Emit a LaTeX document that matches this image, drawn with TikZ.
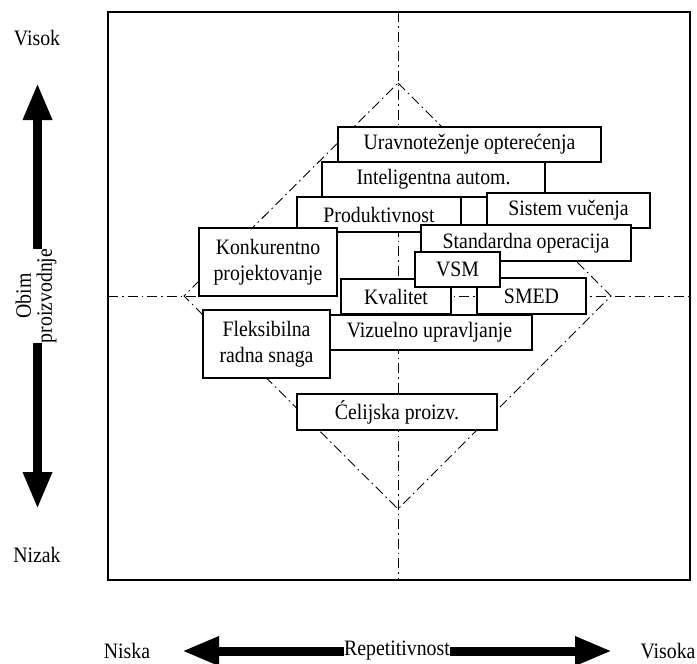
\documentclass[tikz,border=0pt]{standalone}
\usepackage{fontspec}
\setmainfont{Liberation Serif}[FakeStretch=0.9]
\usetikzlibrary{arrows.meta}
\begin{document}
\begin{tikzpicture}[x=1pt,y=-1pt,
  every node/.style={font=\fontsize{22}{25}\selectfont},
  box/.style={draw, fill=white, line width=1.2pt, inner sep=0pt, align=center},
  axisline/.style={line width=0.9pt, dash pattern=on 10pt off 4pt on 1.5pt off 4pt},
  lab/.style={fill=white, inner sep=0pt},
  bigarrow/.style={line width=9pt, -{Triangle[length=37pt,width=27pt]}}
]
\useasboundingbox (0,0) rectangle (697,664);

% frame and axes
\draw[line width=1.2pt] (108,12) rectangle (690,580);
\coordinate (ctop) at (398,12);
\coordinate (cbot) at (398,580);
\coordinate (cleft) at (108,296);
\coordinate (cright) at (690,296);
\draw[axisline] (ctop) -- (cbot);
\draw[axisline] (cleft) -- (cright);

% diamond
\coordinate (dn) at (398,83);
\coordinate (de) at (611,296);
\coordinate (ds) at (398,509);
\coordinate (dw) at (184,296);
\draw[axisline] (dn) -- (de) -- (ds) -- (dw) -- cycle;

% method boxes
\node[box, minimum width=263pt, minimum height=35pt] (urav) at (469.5,144.5) {Uravnoteženje opterećenja};
\node[box, minimum width=223pt, minimum height=35pt] (intel) at (433.5,179.5) {Inteligentna autom.};
\node[box, minimum width=164pt, minimum height=35pt] (prod) at (379,214.5) {Produktivnost};
\node[box, minimum width=163pt, minimum height=35pt] (sist) at (568.5,210.5) {Sistem vučenja};
\node[box, minimum width=210pt, minimum height=36pt] (stand) at (526,243) {Standardna operacija};
\node[box, minimum width=138pt, minimum height=68pt, font=\fontsize{22}{26}\selectfont] (konk) at (268,262) {Konkurentno\\projektovanje};
\node[box, minimum width=110pt, minimum height=35pt] (kval) at (396,296.5) {Kvalitet};
\node[box, minimum width=109pt, minimum height=36pt] (smed) at (531.5,296) {SMED};
\node[box, minimum width=85pt, minimum height=35pt] (vsm) at (457.5,269.5) {VSM};
\node[box, minimum width=205pt, minimum height=35pt] (vizu) at (429.5,332.5) {Vizuelno upravljanje};
\node[box, minimum width=127pt, minimum height=68pt, font=\fontsize{22}{26}\selectfont] (flek) at (266.5,344) {Fleksibilna\\radna snaga};
\node[box, minimum width=200pt, minimum height=36pt] (celi) at (397,412) {Ćelijska proizv.};

% vertical axis: volume
\node (visok) at (37,38) {Visok};
\node (nizak) at (37,555) {Nizak};
\node[lab, rotate=90, align=center, font=\fontsize{22}{21}\selectfont] (obim) at (36,296) {Obim\\proizvodnje};
\coordinate (vup) at (37.5,83);
\coordinate (vdown) at (37.5,509);
\draw[bigarrow] (obim.east -| vup) -- (vup);
\draw[bigarrow] (obim.west -| vdown) -- (vdown);

% horizontal axis: repetitiveness
\node (niska) at (127,651) {Niska};
\node (visoka) at (668,651) {Visoka};
\node[lab] (rep) at (397,651) {Repetitivnost};
\coordinate (hleft) at (182,651);
\coordinate (hright) at (612,651);
\draw[bigarrow] (rep.west) -- (hleft);
\draw[bigarrow] (rep.east) -- (hright);
\end{tikzpicture}
\end{document}
